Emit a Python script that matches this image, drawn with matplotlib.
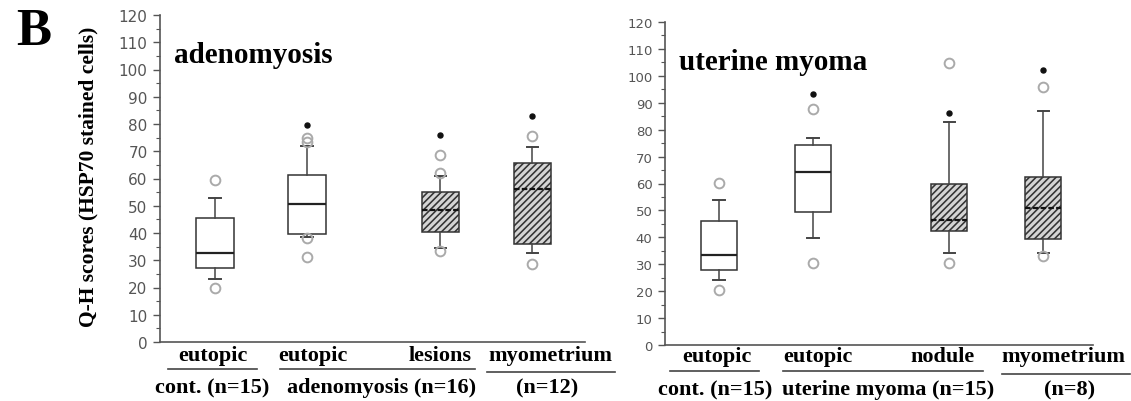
import matplotlib
matplotlib.use("Agg")
import matplotlib.pyplot as plt
from matplotlib.lines import Line2D

plt.rcParams['hatch.linewidth'] = 1.15
plt.rcParams['hatch.color'] = '#444444'

W, H = 1131, 402
SERIF = ['Liberation Serif', 'DejaVu Serif']

# box statistics (Q-H scores)
adeno_whislo = [23.2, 38.7, 34.6, 32.5]
adeno_q1 = [27.0, 39.8, 40.5, 36.0]
adeno_med = [32.5, 50.5, 48.3, 56.0]
adeno_q3 = [45.6, 61.2, 55.0, 65.8]
adeno_whishi = [52.7, 72.0, 61.0, 71.6]
adeno_fliers = [[59.4, 20.0], [75.0, 73.4, 38.0, 31.2], [68.7, 62.0, 33.4], [75.6, 28.5]]
adeno_star = [None, 79.8, 76.0, 83.0]

myoma_whislo = [24.0, 39.6, 34.1, 34.0]
myoma_q1 = [27.75, 49.5, 42.5, 39.5]
myoma_med = [33.5, 64.25, 46.5, 51.0]
myoma_q3 = [46.2, 74.4, 59.9, 62.5]
myoma_whishi = [54.0, 76.75, 82.9, 86.9]
myoma_fliers = [[60.2, 20.5], [87.75, 30.5], [104.6, 30.6], [95.9, 33.1]]
myoma_star = [None, 93.25, 86.25, 102.25]

hatched = [False, False, True, True]
yticks = list(range(0, 121, 10))


def fx(px):
    return px / W


def fy(py):
    return 1 - py / H


def make_stats(lo, q1, med, q3, hi, fl):
    out = []
    for i in range(len(med)):
        out.append(dict(whislo=lo[i], q1=q1[i], med=med[i], q3=q3[i],
                        whishi=hi[i], fliers=fl[i]))
    return out


def draw_panel(ax, stats, stars, title, lblsize, box_w, cap_w):
    pos = [1, 2, 3.45, 4.45]
    res = ax.bxp(stats, positions=pos, widths=box_w, patch_artist=True,
                 showfliers=True, capwidths=cap_w,
                 boxprops=dict(facecolor='white', edgecolor='#333333', linewidth=1.1),
                 medianprops=dict(color='#222222', linewidth=1.6),
                 whiskerprops=dict(color='#444444', linewidth=1.1),
                 capprops=dict(color='#444444', linewidth=1.4),
                 flierprops=dict(marker='o', markerfacecolor='none',
                                 markeredgecolor='#aaaaaa', markersize=7,
                                 markeredgewidth=1.4))
    for b, m, h in zip(res['boxes'], res['medians'], hatched):
        if h:
            b.set_facecolor('#d4d4d4')
            b.set_hatch('/////')
            m.set_linestyle((0, (2.5, 1)))
            m.set_color('#111111')
    for p, s in zip(pos, stars):
        if s is not None:
            ax.plot(p, s, 'o', color='#111111', markersize=3.6)
    ax.set_ylim(0, 120)
    ax.set_yticks(yticks)
    ax.set_yticks(range(5, 120, 10), minor=True)
    ax.set_xticks([])
    ax.tick_params(axis='y', which='major', direction='out', length=5, width=1,
                   colors='#555555', labelsize=lblsize, pad=4)
    ax.tick_params(axis='y', which='minor', direction='out', length=3, width=0.8,
                   colors='#555555')
    for sp in ['top', 'right']:
        ax.spines[sp].set_visible(False)
    ax.spines['left'].set_color('#555555')
    ax.spines['bottom'].set_color('#555555')
    ax.spines['left'].set_linewidth(1.2)
    ax.spines['bottom'].set_linewidth(1.2)
    ax.text(0.032, 0.856, title, transform=ax.transAxes, family=SERIF,
            fontweight='bold', fontsize=21, va='baseline', ha='left')


fig = plt.figure(figsize=(W / 100, H / 100), dpi=100)
fig.patch.set_facecolor('white')

# left panel: 160..585 px wide, 0 at 343, 120 at 16
ax1 = fig.add_axes([fx(160), fy(343), fx(585 - 160), (343 - 16) / H])
ax1.set_xlim(0.402, 0.402 + 425 / 92)
draw_panel(ax1, make_stats(adeno_whislo, adeno_q1, adeno_med, adeno_q3,
                           adeno_whishi, adeno_fliers),
           adeno_star, 'adenomyosis', 11, 0.41, 0.12)

# right panel: 665..1093 px wide, 0 at 346, 120 at 23
ax2 = fig.add_axes([fx(665), fy(346), fx(1093 - 665), (346 - 23) / H])
ax2.set_xlim(1 - 54 / 94, 1 - 54 / 94 + 428 / 94)
draw_panel(ax2, make_stats(myoma_whislo, myoma_q1, myoma_med, myoma_q3,
                           myoma_whishi, myoma_fliers),
           myoma_star, 'uterine myoma', 9.5, 0.38, 0.12)

# group labels below the panels
lab = dict(family=SERIF, fontweight='bold', fontsize=16, va='baseline')
fig.text(fx(213), fy(361), 'eutopic', ha='center', **lab)
fig.text(fx(278), fy(361), 'eutopic', ha='left', **lab)
fig.text(fx(472), fy(361), 'lesions', ha='right', **lab)
fig.text(fx(550), fy(361), 'myometrium', ha='center', **lab)
fig.text(fx(212), fy(393), 'cont. (n=15)', ha='center', **lab)
fig.text(fx(382), fy(393), 'adenomyosis (n=16)', ha='center', **lab)
fig.text(fx(547), fy(393), '(n=12)', ha='center', **lab)

fig.text(fx(717), fy(362), 'eutopic', ha='center', **lab)
fig.text(fx(783), fy(362), 'eutopic', ha='left', **lab)
fig.text(fx(975), fy(362), 'nodule', ha='right', **lab)
fig.text(fx(1063), fy(362), 'myometrium', ha='center', **lab)
fig.text(fx(715), fy(395), 'cont. (n=15)', ha='center', **lab)
fig.text(fx(888), fy(395), 'uterine myoma (n=15)', ha='center', **lab)
fig.text(fx(1070), fy(395), '(n=8)', ha='center', **lab)

seg = [(168, 257, 370), (280, 475, 370), (487, 615, 373),
       (670, 759, 372), (783, 983, 372), (1002, 1130, 375)]
for x0, x1, yy in seg:
    fig.add_artist(Line2D([fx(x0), fx(x1)], [fy(yy), fy(yy)],
                          transform=fig.transFigure, color='#444444', lw=1.2))

fig.text(fx(88), fy(177), 'Q-H scores (HSP70 stained cells)', rotation=90,
         ha='center', va='center', family=SERIF, fontweight='bold', fontsize=15.5)
fig.text(fx(16), fy(45), 'B', family=SERIF, fontweight='bold', fontsize=38,
         ha='left', va='baseline')

fig.savefig('out.png', dpi=100, facecolor='white')
